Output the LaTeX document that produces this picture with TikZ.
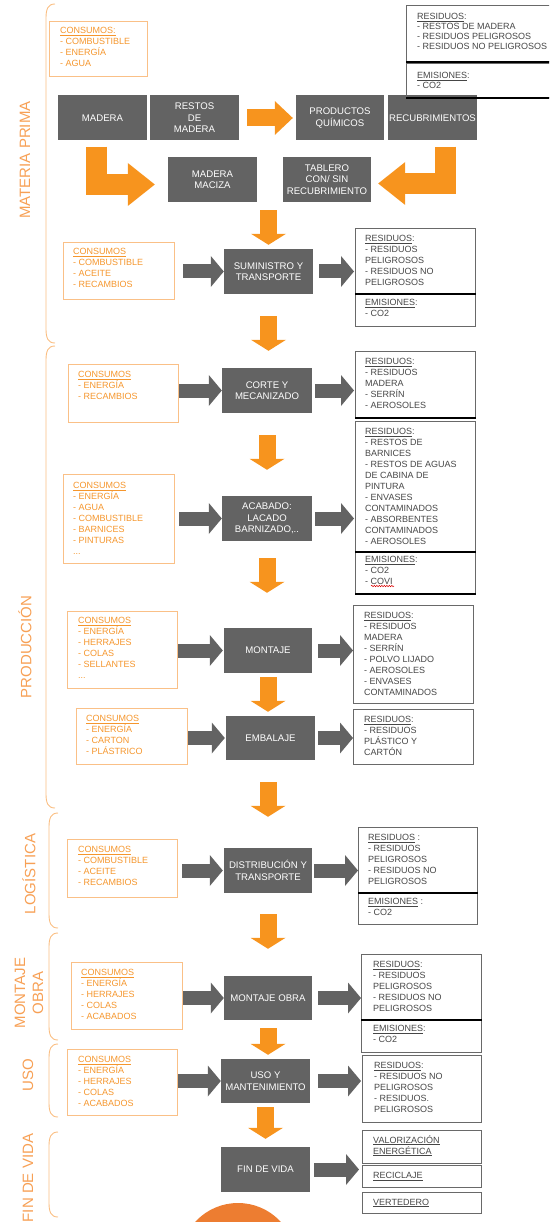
\documentclass[tikz,border=0pt]{standalone}
\usepackage{fontspec}
\setmainfont{Liberation Sans}
\usetikzlibrary{arrows.meta,calc,decorations.pathmorphing}
\definecolor{boxgray}{RGB}{99,99,99}
\definecolor{aorange}{RGB}{247,148,30}
\definecolor{corange}{RGB}{245,150,45}
\definecolor{cborder}{RGB}{250,192,135}
\definecolor{lorange}{RGB}{247,160,85}
\definecolor{brkc}{RGB}{250,190,130}
\definecolor{rborder}{RGB}{105,105,105}
\definecolor{rtextc}{RGB}{70,70,70}
\definecolor{circc}{RGB}{237,125,49}
\newcommand\gfnt{\fontsize{9.6}{11.5}\selectfont}
\newcommand\tfnt{\fontsize{9}{11}\selectfont}
\newcommand\tfnta{\fontsize{9}{10}\selectfont}
\newcommand\lfnt{\fontsize{15}{18}\selectfont}
\newcommand\ulin[1]{\underline{#1}}
\newcommand\bracketpath[3]{\draw[brk] ({#1+9},#2) .. controls ({#1+2},#2) and (#1,{#2+5}) .. (#1,{#2+14}) -- (#1,{#3-14}) .. controls (#1,{#3-5}) and ({#1+2},#3) .. ({#1+9},#3);}
\begin{document}
\begin{tikzpicture}[x=1pt,y=-1pt,
 gbox/.style={fill=boxgray,text=white,font=\gfnt,align=center,inner sep=0pt,minimum width=89pt,minimum height=45pt},
 cbox/.style={draw=cborder,line width=1pt,inner sep=0pt,anchor=north west},
 ctext/.style={text=corange,font=\tfnt,align=left,inner sep=0pt,anchor=north west},
 rbox/.style={draw=rborder,line width=0.9pt,inner sep=0pt,anchor=north west},
 rtxt/.style={text=rtextc,font=\tfnt,align=left,inner sep=0pt,anchor=north west},
 sepline/.style={draw=black,line width=1.4pt},
 garr/.style={draw=boxgray,line width=14pt,-{Triangle[width=31pt,length=13pt,line width=0pt]}},
 odown/.style={draw=aorange,line width=17pt,-{Triangle[width=35pt,length=11pt,line width=0pt]}},
 oright/.style={draw=aorange,line width=17pt,-{Triangle[width=34pt,length=18pt,line width=0pt]}},
 obent/.style={draw=aorange,line width=21pt,line join=miter,-{Triangle[width=43pt,length=27pt,line width=0pt]}},
 brk/.style={draw=brkc,line width=0.9pt},
 lbl/.style={text=lorange,font=\lfnt,rotate=90,inner sep=0pt,align=center}]
\path[use as bounding box] (0,0) rectangle (549,1222);
\clip (0,0) rectangle (549,1222);

% brackets and stage labels
\bracketpath{46}{4}{343}
\bracketpath{46}{346}{808}
\bracketpath{49}{813}{928}
\bracketpath{49}{933}{1040}
\bracketpath{49}{1044}{1117}
\bracketpath{49}{1132}{1217}
\node[lbl] (lmp) at (25,160) {MATERIA PRIMA};
\node[lbl] (lpr) at (25,647) {PRODUCCIÓN};
\node[lbl] (llo) at (29,874) {LOGÍSTICA};
\node[lbl] (lmo) at (29,993) {MONTAJE\\OBRA};
\node[lbl] (lus) at (28,1075) {USO};
\node[lbl] (lfv) at (28,1178) {FIN DE VIDA};

% ---------- MATERIA PRIMA ----------
\node[cbox,minimum width=98pt,minimum height=55pt] (c0) at (49,21) {};
\node[ctext] (c0t) at ($(c0.north west)+(11,6)$) {\ulin{CONSUMOS:}\\- COMBUSTIBLE\\- ENERGÍA\\- AGUA};

\node[gbox] (mad) at (102.5,118) {MADERA};
\node[gbox] (res) at (194.5,118) {RESTOS\\DE\\MADERA};
\node[gbox,minimum width=88pt] (prod) at (340,118) {PRODUCTOS\\QUÍMICOS};
\node[gbox] (recub) at (432.5,118) {RECUBRIMIENTOS};
\node[gbox] (maciza) at (212.5,179.5) {MADERA\\MACIZA};
\node[gbox,minimum width=88pt] (tab) at (327,179.5) {TABLERO\\CON/ SIN\\RECUBRIMIENTO};

\node[rbox,minimum width=154pt,minimum height=56pt] (r0) at (406,5) {};
\node[rbox,minimum width=154pt,minimum height=34pt] (e0) at (406,63) {};
\draw[sepline] (r0.south west) -- (r0.south east);
\draw[sepline] (e0.south west) -- (e0.south east);
\node[rtxt,font=\tfnta] (r0t) at ($(r0.north west)+(11,8)$) {\ulin{RESIDUOS}:\\- RESTOS DE MADERA\\- RESIDUOS PELIGROSOS\\- RESIDUOS NO PELIGROSOS};
\node[rtxt,font=\tfnta] (e0t) at ($(e0.north west)+(11,9)$) {\ulin{EMISIONES}:\\- CO2};

\draw[oright,shorten <=8pt,shorten >=3pt] (res.east) -- (prod.west);
\draw[obent] ($(mad.south)+(-6.5,6)$) |- ($(maciza.west)+(-13,5)$);
\draw[obent] ($(recub.south)+(12.5,6)$) |- ($(tab.east)+(7,4)$);

% ---------- SUMINISTRO ----------
\node[cbox,minimum width=111pt,minimum height=57pt] (c1) at (63,242) {};
\node[ctext] (c1t) at ($(c1.north west)+(10,6)$) {\ulin{CONSUMOS}\\- COMBUSTIBLE\\- ACEITE\\- RECAMBIOS};
\node[gbox] (b1) at (268.5,271.5) {SUMINISTRO Y\\TRANSPORTE};
\node[rbox,minimum width=120pt,minimum height=65pt] (r1) at (355,228) {};
\node[rbox,minimum width=120pt,minimum height=33pt] (e1) at (355,293) {};
\draw[sepline] (r1.south west) -- (r1.south east);
\node[rtxt] (r1t) at ($(r1.north west)+(10,7)$) {\ulin{RESIDUOS}:\\- RESIDUOS\\PELIGROSOS\\- RESIDUOS NO\\PELIGROSOS};
\node[rtxt] (e1t) at ($(e1.north west)+(10,6)$) {\ulin{EMISIONES}:\\- CO2};

% ---------- CORTE ----------
\node[cbox,minimum width=110pt,minimum height=58pt] (c2) at (68,364) {};
\node[ctext] (c2t) at ($(c2.north west)+(10,7)$) {\ulin{CONSUMOS}\\- ENERGÍA\\- RECAMBIOS};
\node[gbox,minimum width=90pt] (b2) at (267,390.5) {CORTE Y\\MECANIZADO};
\node[rbox,minimum width=120pt,minimum height=66pt] (r2) at (355,351) {};
\draw[sepline] (r2.south west) -- (r2.south east);
\node[rtxt] (r2t) at ($(r2.north west)+(10,7)$) {\ulin{RESIDUOS}:\\- RESIDUOS\\MADERA\\- SERRÍN\\- AEROSOLES};

% ---------- ACABADO ----------
\node[cbox,minimum width=111pt,minimum height=89pt] (c3) at (63,474) {};
\node[ctext] (c3t) at ($(c3.north west)+(10,8)$) {\ulin{CONSUMOS}\\- ENERGÍA\\- AGUA\\- COMBUSTIBLE\\- BARNICES\\- PINTURAS\\...};
\node[gbox,minimum width=90pt] (b3) at (267,518.5) {ACABADO:\\LACADO\\BARNIZADO,..};
\node[rbox,minimum width=120pt,minimum height=130pt] (r3) at (355,421) {};
\node[rbox,minimum width=120pt,minimum height=42pt] (e3) at (355,551) {};
\draw[sepline] (r3.south west) -- (r3.south east);
\draw[sepline] (e3.south west) -- (e3.south east);
\node[rtxt] (r3t) at ($(r3.north west)+(10,7)$) {\ulin{RESIDUOS}:\\- RESTOS DE\\BARNICES\\- RESTOS DE AGUAS\\DE CABINA DE\\PINTURA\\- ENVASES\\CONTAMINADOS\\- ABSORBENTES\\CONTAMINADOS\\- AEROSOLES};
\node[rtxt] (e3t) at ($(e3.north west)+(10,5)$) {\ulin{EMISIONES}:\\- CO2\\- COVI};
\coordinate (sq1) at (371,586);
\coordinate (sq2) at (394,586);
\draw[red!85!black,line width=0.5pt,decorate,decoration={snake,amplitude=0.7pt,segment length=2.5pt}] (sq1) -- (sq2);

% ---------- MONTAJE ----------
\node[cbox,minimum width=110pt,minimum height=77pt] (c4) at (67,611) {};
\node[ctext] (c4t) at ($(c4.north west)+(11,6)$) {\ulin{CONSUMOS}\\- ENERGÍA\\- HERRAJES\\- COLAS\\- SELLANTES\\...};
\node[gbox,minimum width=88pt] (b4) at (268,650.5) {MONTAJE};
\node[rbox,minimum width=120pt,minimum height=98pt] (r4) at (353,605) {};
\node[rtxt] (r4t) at ($(r4.north west)+(11,7)$) {\ulin{RESIDUOS}:\\- RESIDUOS\\MADERA\\- SERRÍN\\- POLVO LIJADO\\- AEROSOLES\\- ENVASES\\CONTAMINADOS};

% ---------- EMBALAJE ----------
\node[cbox,minimum width=111pt,minimum height=56pt] (c5) at (76,708) {};
\node[ctext] (c5t) at ($(c5.north west)+(10,7)$) {\ulin{CONSUMOS}\\- ENERGÍA\\- CARTON\\- PLÁSTRICO};
\node[gbox,minimum height=44pt] (b5) at (270.5,738) {EMBALAJE};
\node[rbox,minimum width=120pt,minimum height=55pt] (r5) at (353,709) {};
\node[rtxt] (r5t) at ($(r5.north west)+(11,7)$) {\ulin{RESIDUOS}:\\- RESIDUOS\\PLÁSTICO Y\\CARTÓN};

% ---------- LOGISTICA ----------
\node[cbox,minimum width=110pt,minimum height=58pt] (c6) at (67,839) {};
\node[ctext] (c6t) at ($(c6.north west)+(11,7)$) {\ulin{CONSUMOS}\\- COMBUSTIBLE\\- ACEITE\\- RECAMBIOS};
\node[gbox,minimum width=88pt] (b6) at (268,870.5) {DISTRIBUCIÓN Y\\TRANSPORTE};
\node[rbox,minimum width=119pt,minimum height=65pt] (r6) at (358,827) {};
\node[rbox,minimum width=119pt,minimum height=32pt] (e6) at (358,892) {};
\draw[sepline] (r6.south west) -- (r6.south east);
\node[rtxt] (r6t) at ($(r6.north west)+(10,7)$) {\ulin{RESIDUOS} :\\- RESIDUOS\\PELIGROSOS\\- RESIDUOS NO\\PELIGROSOS};
\node[rtxt] (e6t) at ($(e6.north west)+(10,6)$) {\ulin{EMISIONES} :\\- CO2};

% ---------- MONTAJE OBRA ----------
\node[cbox,minimum width=111pt,minimum height=67pt] (c7) at (71,962) {};
\node[ctext] (c7t) at ($(c7.north west)+(10,7)$) {\ulin{CONSUMOS}\\- ENERGÍA\\- HERRAJES\\- COLAS\\- ACABADOS};
\node[gbox,minimum width=88pt,minimum height=44pt] (b7) at (268,998) {MONTAJE OBRA};
\node[rbox,minimum width=120pt,minimum height=65pt] (r7) at (361,954) {};
\node[rbox,minimum width=120pt,minimum height=33pt] (e7) at (361,1019) {};
\draw[sepline] (r7.south west) -- (r7.south east);
\node[rtxt] (r7t) at ($(r7.north west)+(12,7)$) {\ulin{RESIDUOS}:\\- RESIDUOS\\PELIGROSOS\\- RESIDUOS NO\\PELIGROSOS};
\node[rtxt] (e7t) at ($(e7.north west)+(12,6)$) {\ulin{EMISIONES}:\\- CO2};

% ---------- USO ----------
\node[cbox,minimum width=110pt,minimum height=66pt] (c8) at (67,1049) {};
\node[ctext] (c8t) at ($(c8.north west)+(11,7)$) {\ulin{CONSUMOS}\\- ENERGÍA\\- HERRAJES\\- COLAS\\- ACABADOS};
\node[gbox,minimum height=44pt] (b8) at (265.5,1081) {USO Y\\MANTENIMIENTO};
\node[rbox,minimum width=119pt,minimum height=67pt] (r8) at (362,1055) {};
\node[rtxt] (r8t) at ($(r8.north west)+(12,7)$) {\ulin{RESIDUOS}:\\- RESIDUOS NO\\PELIGROSOS\\- RESIDUOS.\\PELIGROSOS};

% ---------- FIN DE VIDA ----------
\node[gbox] (b9) at (265.5,1169.5) {FIN DE VIDA};
\node[rbox,minimum width=119pt,minimum height=33pt] (f1) at (362,1130) {};
\node[rbox,minimum width=119pt,minimum height=22pt] (f2) at (362,1165) {};
\node[rbox,minimum width=119pt,minimum height=21pt] (f3) at (362,1192) {};
\node[rtxt] (f1t) at ($(f1.north west)+(11,5)$) {\ulin{VALORIZACIÓN}\\\ulin{ENERGÉTICA}};
\node[rtxt,anchor=west] (f2t) at ($(f2.west)+(11,0)$) {\ulin{RECICLAJE}};
\node[rtxt,anchor=west] (f3t) at ($(f3.west)+(11,0)$) {\ulin{VERTEDERO}};
\fill[circc] (238,1261) circle[radius=58pt];

% ---------- gray arrows ----------
\draw[garr,shorten <=8pt] (b1.west -| c1.east) -- (b1.west);
\draw[garr,shorten <=6pt,shorten >=1pt] (b1.east) -- (b1.east -| r1.west);
\draw[garr] (b2.west -| c2.east) -- (b2.west);
\draw[garr,shorten <=3pt,shorten >=1pt] (b2.east) -- (b2.east -| r2.west);
\draw[garr,shorten <=4pt] (b3.west -| c3.east) -- (b3.west);
\draw[garr,shorten <=3pt,shorten >=1pt] (b3.east) -- (b3.east -| r3.west);
\draw[garr,shorten >=1pt] (b4.west -| c4.east) -- (b4.west);
\draw[garr,shorten <=6pt] (b4.east) -- (b4.east -| r4.west);
\draw[garr,shorten >=1pt] (b5.west -| c5.east) -- (b5.west);
\draw[garr,shorten <=3pt] (b5.east) -- (b5.east -| r5.west);
\draw[garr,shorten <=4pt,shorten >=1pt] (b6.west -| c6.east) -- (b6.west);
\draw[garr,shorten <=2pt] (b6.east) -- (b6.east -| r6.west);
\draw[garr] (b7.west -| c7.east) -- (b7.west);
\draw[garr,shorten <=6pt] (b7.east) -- (b7.east -| r7.west);
\draw[garr] (b8.west -| c8.east) -- (b8.west);
\draw[garr,shorten <=8pt,shorten >=1pt] (b8.east) -- (b8.east -| r8.west);
\draw[garr,shorten <=4pt,shorten >=3pt] (b9.east) -- (b9.east -| f2.west);

% ---------- orange flow arrows ----------
\draw[odown,shorten <=8pt,shorten >=4pt] (b1.north |- maciza.south) -- (b1.north);
\draw[odown,shorten <=22pt,shorten >=17pt] (b1.south) -- (b1.south |- b2.north);
\draw[odown,shorten <=22pt,shorten >=26pt] (b2.south) -- (b2.south |- b3.north);
\draw[odown,shorten <=17pt,shorten >=35pt] (b3.south) -- (b3.south |- b4.north);
\draw[odown,shorten <=4pt,shorten >=4pt] (b4.south) -- (b4.south |- b5.north);
\draw[odown,shorten <=22pt,shorten >=31pt] (b6.north |- b5.south) -- (b6.north);
\draw[odown,shorten <=21pt,shorten >=27pt] (b6.south) -- (b6.south |- b7.north);
\draw[odown,shorten <=8pt,shorten >=4pt] (b7.south) -- (b7.south |- b8.north);
\draw[odown,shorten <=4pt,shorten >=8pt] (b8.south) -- (b8.south |- b9.north);
\end{tikzpicture}
\end{document}
